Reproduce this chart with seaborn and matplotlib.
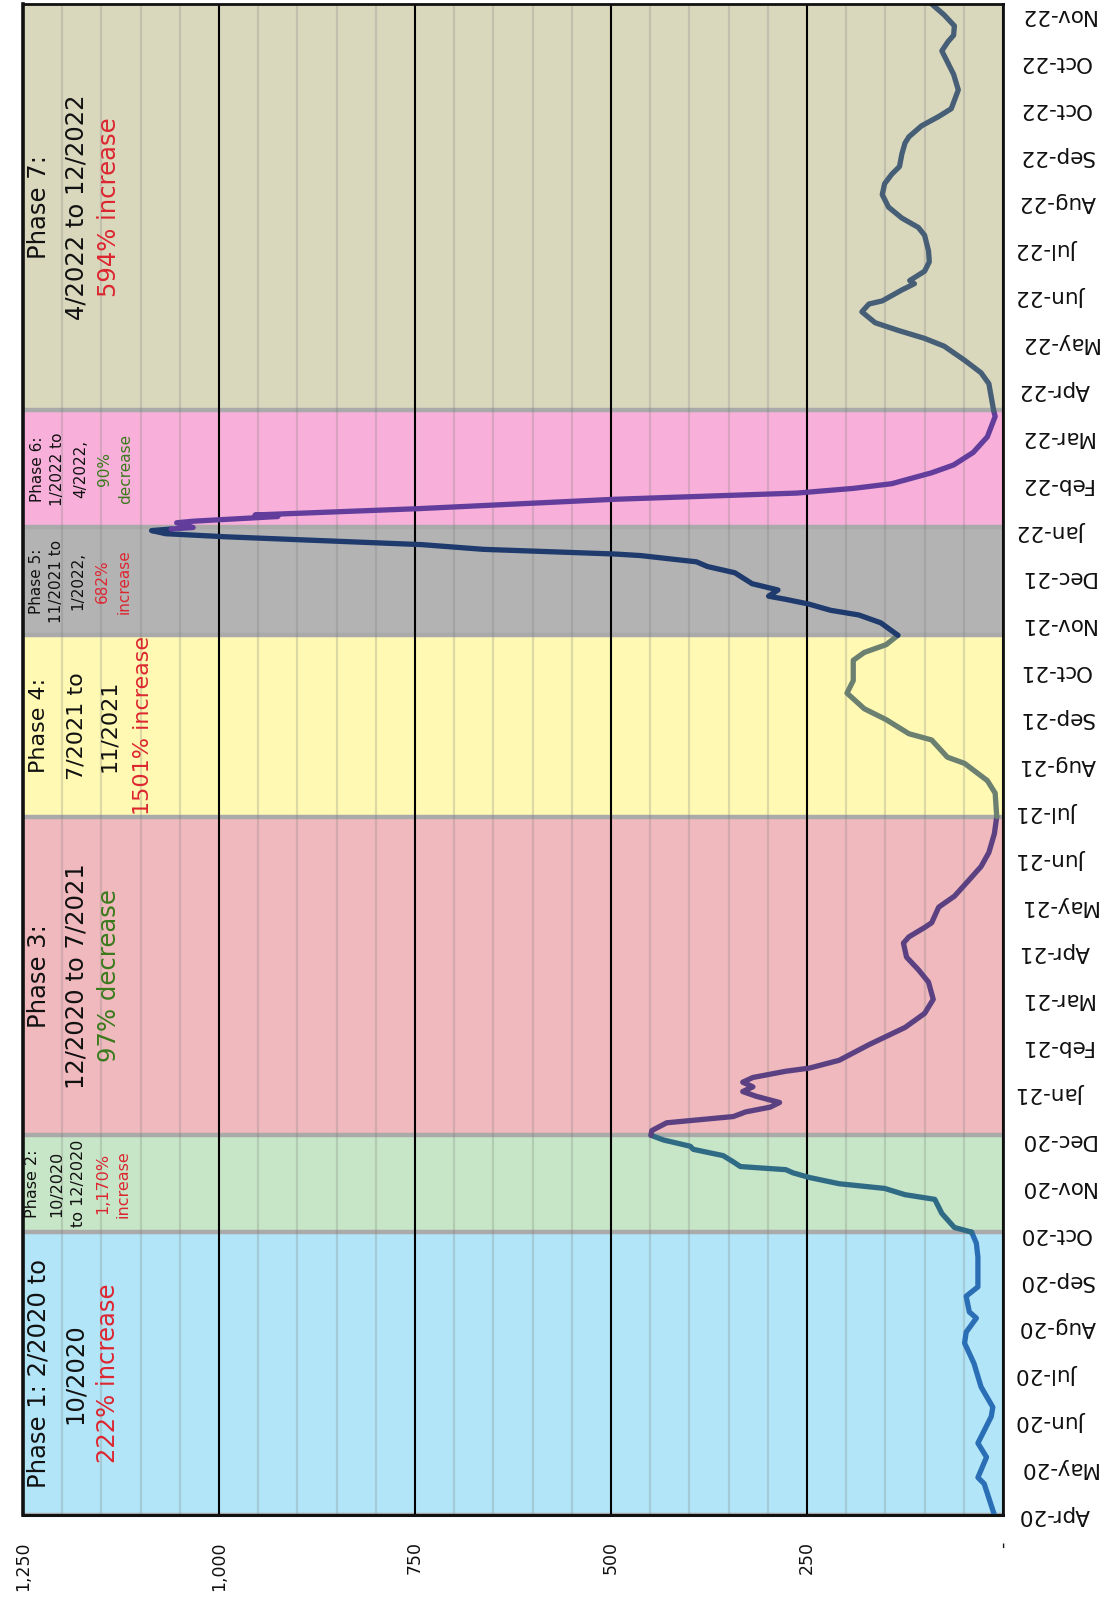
import datetime
import numpy as np
import pandas as pd
import matplotlib
matplotlib.use("Agg")
import matplotlib.pyplot as plt
import seaborn as sns
from matplotlib.ticker import MultipleLocator, FixedLocator, FuncFormatter
from matplotlib.transforms import blended_transform_factory

# ---------------- data (day offsets from 14-Apr-2020, values) ----------------
START = datetime.date(2020, 4, 14)

p1_days = [0, 20, 24, 37, 46, 63, 69, 82, 97, 110, 117, 126, 130, 140, 146, 165, 174, 181]
p1_vals = [11, 24, 32, 21, 32, 15, 13, 28, 37, 49, 47, 34, 43, 47, 32, 32, 34, 40]

p2_days = [181, 184, 193, 202, 205, 209, 212, 216, 219, 221, 223, 226, 230, 234, 236, 240, 243]
p2_vals = [40, 62, 78, 87, 125, 151, 209, 247, 268, 277, 335, 344, 357, 395, 399, 433, 449]

p3_days = [243, 246, 251, 255, 258, 261, 264, 268, 271, 274, 277, 280, 284, 286, 291, 301, 312,
           321, 330, 341, 349, 357, 366, 370, 376, 379, 389, 396, 406, 415, 424, 436, 447]
p3_vals = [449, 448, 429, 344, 328, 297, 285, 315, 332, 319, 332, 319, 277, 247, 209, 171, 125,
           100, 89, 95, 108, 123, 127, 120, 100, 91, 82, 62, 44, 28, 18, 11, 8]

p4_days = [447, 462, 470, 481, 485, 496, 500, 509, 516, 526, 534, 547, 552, 557, 563]
p4_vals = [8, 10, 20, 49, 71, 91, 120, 149, 177, 199, 191, 191, 177, 149, 134]

p5_days = [563, 571, 576, 579, 583, 586, 588, 592, 596, 603, 607, 610, 614, 615, 618, 621, 626,
           628, 630, 631]
p5_vals = [134, 156, 184, 220, 248, 277, 299, 287, 320, 342, 377, 391, 462, 495, 663, 741, 990,
           1068, 1086, 1061]

p6_days = [631, 632, 635, 636, 639, 640, 644, 650, 654, 657, 660, 667, 672, 680, 690, 703, 707]
p6_vals = [1061, 1033, 1054, 1033, 925, 954, 747, 497, 263, 191, 142, 91, 63, 38, 20, 10, 12]

p7_days = [707, 724, 731, 739, 748, 753, 758, 763, 770, 775, 777, 784, 788, 790, 796, 802, 809,
           819, 824, 830, 837, 845, 852, 858, 863, 871, 878, 882, 889, 895, 900, 912, 922, 929,
           937, 943, 947, 953, 960, 967]
p7_vals = [12, 18, 28, 49, 75, 100, 133, 163, 180, 171, 154, 129, 113, 119, 100, 94, 95,
           100, 108, 129, 146, 154, 151, 142, 132, 129, 125, 120, 104, 82, 66, 57, 63, 70,
           78, 70, 63, 62, 75, 91]

phase_names = ["Phase 1", "Phase 2", "Phase 3", "Phase 4", "Phase 5", "Phase 6", "Phase 7"]
phase_bounds = [0, 181, 243, 447, 563, 632, 707, 967]
band_colors = ["#b3e5f8", "#c7e5c7", "#f0b9bd", "#fff9b3", "#b3b3b3", "#f8b0da", "#d9d8bd"]
line_colors = ["#2a6fb6", "#2f6b84", "#5b4182", "#6b8070", "#1f3a6d", "#633d9c", "#465f76"]

value_ticks = [1250, 1000, 750, 500, 250, 0]
value_labels = ["1,250", "1,000", "750", "500", "250", "-"]

BLACK, RED, GREEN = "#111111", "#dd2630", "#3a7a1c"
phase_texts = [
    [("Phase 1: 2/2020 to", BLACK), ("10/2020", BLACK), ("222% increase", RED)],
    [("Phase 2:", BLACK), ("10/2020", BLACK), ("to 12/2020", BLACK), ("1,170%", RED), ("increase", RED)],
    [("Phase 3:", BLACK), ("12/2020 to 7/2021", BLACK), ("97% decrease", GREEN)],
    [("Phase 4:", BLACK), ("7/2021 to", BLACK), ("11/2021", BLACK), ("1501% increase", RED)],
    [("Phase 5:", BLACK), ("11/2021 to", BLACK), ("1/2022,", BLACK), ("682%", RED), ("increase", RED)],
    [("Phase 6:", BLACK), ("1/2022 to", BLACK), ("4/2022,", BLACK), ("90%", GREEN), ("decrease", GREEN)],
    [("Phase 7:", BLACK), ("4/2022 to 12/2022", BLACK), ("594% increase", RED)],
]
text_x = [
    [0.0163, 0.0531, 0.0867],
    [0.0102, 0.0347, 0.0571, 0.0816, 0.1020],
    [0.0163, 0.0541, 0.0878],
    [0.0163, 0.0541, 0.0878, 0.1224],
    [0.0133, 0.0337, 0.0561, 0.0806, 0.1030],
    [0.0143, 0.0357, 0.0592, 0.0827, 0.1050],
    [0.0163, 0.0551, 0.0878],
]
text_sizes = [17.5, 11.5, 17.5, 16, 11, 11, 17.5]

# ---------------- build frame ----------------
all_days = [p1_days, p2_days, p3_days, p4_days, p5_days, p6_days, p7_days]
all_vals = [p1_vals, p2_vals, p3_vals, p4_vals, p5_vals, p6_vals, p7_vals]
df = pd.concat([pd.DataFrame({"day": d, "value": v, "phase": n})
                for d, v, n in zip(all_days, all_vals, phase_names)], ignore_index=True)

# ---------------- plot ----------------
sns.set_theme(style="white")
plt.rcParams["font.family"] = ["DejaVu Sans"]

W, H = 1115, 1597
fig = plt.figure(figsize=(W / 100, H / 100), dpi=100)
ax = fig.add_axes([23 / W, (H - 1515) / H, 980 / W, 1511 / H])

for i in range(7):
    ax.axhspan(phase_bounds[i], phase_bounds[i + 1], facecolor=band_colors[i],
               edgecolor="none", zorder=0.1)
for b in phase_bounds[:-1]:
    ax.axhline(b, color="#aaaaaa", lw=3.2, zorder=0.3)

sns.lineplot(data=df, x="value", y="day", hue="phase", orient="y", sort=True,
             estimator=None, palette=dict(zip(phase_names, line_colors)),
             linewidth=3.8, legend=False, ax=ax, zorder=3,
             solid_joinstyle="round", solid_capstyle="round")

ax.set_xlim(1250, 0)
ax.set_ylim(phase_bounds[0], phase_bounds[-1])
ax.set_xlabel("")
ax.set_ylabel("")

# grid
ax.set_axisbelow(True)
ax.xaxis.set_major_locator(FixedLocator(value_ticks))
ax.xaxis.set_minor_locator(MultipleLocator(50))
ax.grid(axis="x", which="major", color="black", lw=1.5)
ax.grid(axis="x", which="minor", color="#7a7a7a", alpha=0.25, lw=1.6)
ax.grid(axis="y", visible=False)

# value ticks (bottom, rotated)
ax.set_xticklabels(value_labels, rotation=90, fontsize=12.5, color="#111111")
ax.tick_params(axis="x", which="both", length=0, pad=19)

# date ticks (right, upside down)
ax.yaxis.tick_right()
date_ticks = list(range(0, 961, 30))
ax.yaxis.set_major_locator(FixedLocator(date_ticks))
ax.yaxis.set_major_formatter(FuncFormatter(
    lambda d, p: (START + datetime.timedelta(days=int(round(d)))).strftime("%b-%y")))
ax.tick_params(axis="y", which="both", length=0, pad=11, labelsize=15.5,
               labelcolor="#111111")
for lab in ax.get_yticklabels():
    lab.set_rotation(180)
    lab.set_va("center")

for side, lw in [("left", 2.6), ("top", 2.0), ("bottom", 2.2), ("right", 2.0)]:
    ax.spines[side].set_visible(True)
    ax.spines[side].set_color("#111111")
    ax.spines[side].set_linewidth(lw)
    ax.spines[side].set_zorder(5)

# phase annotations
trans = blended_transform_factory(ax.transAxes, ax.transData)
for i in range(7):
    yc = (phase_bounds[i] + phase_bounds[i + 1]) / 2
    for (txt, col), xf in zip(phase_texts[i], text_x[i]):
        ax.text(xf, yc, txt, transform=trans, rotation=90, ha="center", va="center",
                color=col, fontsize=text_sizes[i], zorder=6)

fig.savefig("out.png", dpi=100)
